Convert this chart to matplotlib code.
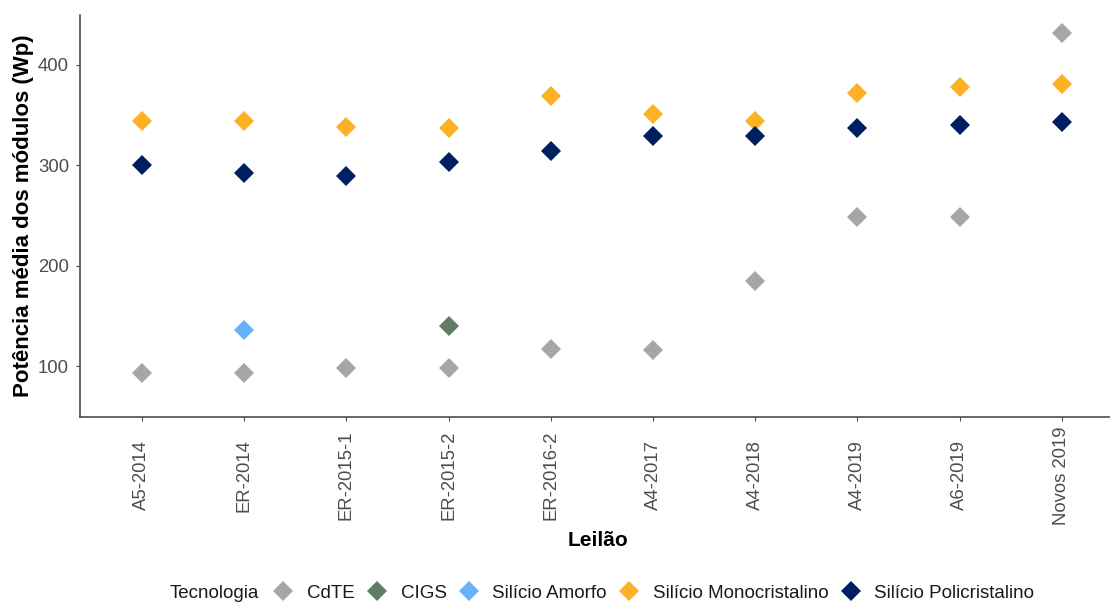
import numpy as np
import matplotlib
matplotlib.use('Agg')
import matplotlib.pyplot as plt

plt.rcParams['font.family'] = ['Liberation Sans', 'DejaVu Sans']

# Data
leiloes = ['A5-2014', 'ER-2014', 'ER-2015-1', 'ER-2015-2', 'ER-2016-2',
           'A4-2017', 'A4-2018', 'A4-2019', 'A6-2019', 'Novos 2019']

cdte = [93, 93, 98, 98, 117, 116, 185, 249, 249, 432]
cigs = [None, None, None, 140, None, None, None, None, None, None]
amorfo = [None, 136, None, None, None, None, None, None, None, None]
mono = [344, 344, 338, 337, 369, 351, 344, 372, 378, 381]
poli = [300, 292, 289, 303, 314, 329, 329, 337, 340, 343]

series = [('CdTE', cdte, '#A6A6A6'),
          ('CIGS', cigs, '#5E7D63'),
          ('Silício Amorfo', amorfo, '#66B2FF'),
          ('Silício Monocristalino', mono, '#FDB124'),
          ('Silício Policristalino', poli, '#001F60')]

W, H = 1110, 603
fig = plt.figure(figsize=(W / 100, H / 100), dpi=100)
ax = fig.add_axes([80 / W, 1 - 417 / H, (1110 - 80) / W, (417 - 15) / H])

x = np.arange(1, len(leiloes) + 1)
handles = []
for nome, vals, cor in series:
    xs = [xi for xi, v in zip(x, vals) if v is not None]
    ys = [v for v in vals if v is not None]
    h, = ax.plot(xs, ys, linestyle='none', marker='D', markersize=10,
                 color=cor, markeredgewidth=0, label=nome)
    handles.append(h)

ax.set_xlim(0.395, 10.47)
ax.set_ylim(49.7, 449.6)
ax.set_yticks([100, 200, 300, 400])
ax.set_xticks(x)
ax.set_xticklabels(leiloes, rotation=90, va='center', ha='center')

for s in ['top', 'right']:
    ax.spines[s].set_visible(False)
for s in ['left', 'bottom']:
    ax.spines[s].set_color('#4D4D4D')
    ax.spines[s].set_linewidth(1.2)

ax.tick_params(axis='both', colors='#4D4D4D', labelcolor='#4D4D4D',
               labelsize=13.3, length=3, width=0.8)
ax.tick_params(axis='y', pad=5)
ax.tick_params(axis='x', pad=39)

fig.text(24 / W, 1 - 216 / H, 'Potência média dos módulos (Wp)', rotation=90,
         ha='center', va='center', fontsize=16, fontweight='bold')
fig.text(598 / W, 1 - 540 / H, 'Leilão', ha='center', va='center',
         fontsize=15, fontweight='bold')

fig.text(170 / W, 1 - 593 / H, 'Tecnologia', ha='left', va='center',
         fontsize=13.5, color='#1A1A1A')
fig.legend(handles=handles, loc='center left', bbox_to_anchor=(274 / W, 1 - 593 / H),
           ncol=5, frameon=False, fontsize=13.5, handlelength=1.0,
           handletextpad=0.75, columnspacing=0.7, borderpad=0, borderaxespad=0,
           labelcolor='#1A1A1A')

fig.savefig('out.png', dpi=100)
